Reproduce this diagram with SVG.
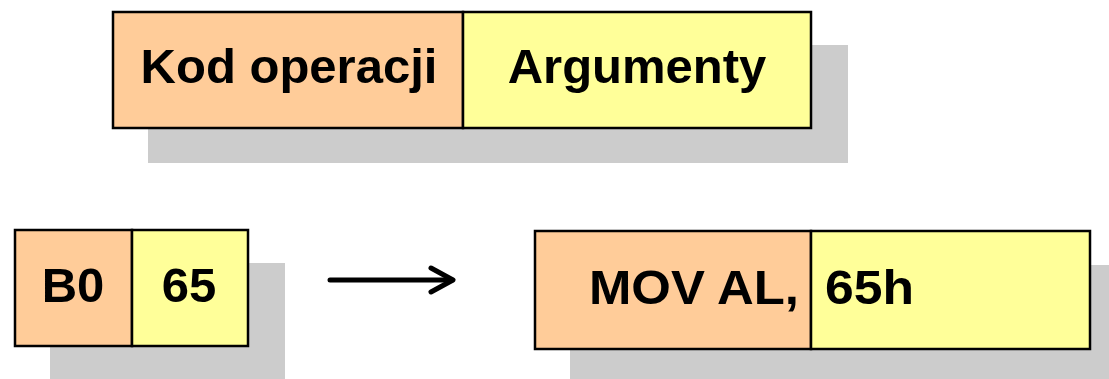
<svg xmlns="http://www.w3.org/2000/svg" width="1109" height="379" viewBox="0 0 1109 379">
<style>
.sh{fill:#CCCCCC}
.op{fill:#FFCC99;stroke:#000;stroke-width:2.5}
.ar{fill:#FFFF99;stroke:#000;stroke-width:2.5}
.t{font-family:"Liberation Sans",Arial,sans-serif;font-weight:bold;font-size:49px;fill:#000}
</style>
<rect width="1109" height="379" fill="#fff"/>
<g id="format">
<rect class="sh" x="148" y="45" width="700" height="118"/>
<rect class="op" x="113" y="12" width="350" height="116"/>
<rect class="ar" x="463" y="12" width="348" height="116"/>
<text class="t" x="289" y="83" text-anchor="middle">Kod operacji</text>
<text class="t" x="637" y="83" text-anchor="middle">Argumenty</text>
</g>
<g id="machine">
<rect class="sh" x="50" y="263" width="235" height="116"/>
<rect class="op" x="15" y="230" width="117" height="116"/>
<rect class="ar" x="132" y="230" width="116" height="116"/>
<text class="t" x="73" y="302" text-anchor="middle">B0</text>
<text class="t" x="189" y="302" text-anchor="middle">65</text>
</g>
<g id="assembly">
<rect class="sh" x="570" y="265" width="539" height="114"/>
<rect class="op" x="535" y="231" width="276" height="118"/>
<rect class="ar" x="811" y="231" width="279" height="118"/>
<text class="t" x="589" y="304" textLength="210" lengthAdjust="spacingAndGlyphs">MOV AL,</text>
<text class="t" x="825" y="304" textLength="89" lengthAdjust="spacingAndGlyphs">65h</text>
</g>
<g id="connectors" fill="none" stroke="#000" stroke-width="5" stroke-linecap="round" stroke-linejoin="round">
<line x1="330" y1="280" x2="452" y2="280"/>
<polyline points="431,268 453,280 431,292"/>
</g>
</svg>
